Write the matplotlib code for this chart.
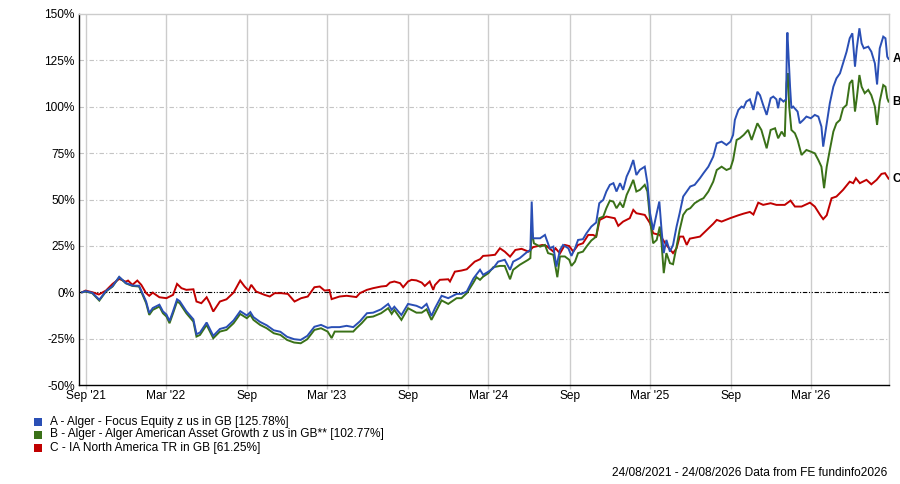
import matplotlib
matplotlib.use('Agg')
import matplotlib.pyplot as plt
from matplotlib.patches import Rectangle
import pandas as pd

plt.rcParams['font.family'] = ['Liberation Sans', 'DejaVu Sans']

start_date = '2021-08-24'
end_date = '2026-08-24'

# A - Alger - Focus Equity (days since start, cumulative % change)
days_a = [0, 8, 23, 39, 54, 69, 84, 99, 114, 129, 145, 152, 160, 175, 183, 191, 198, 206, 215, 221,
          236, 252, 259, 267, 282, 297, 312, 327, 343, 358, 373, 381, 388, 403, 418, 434, 449, 464, 480, 495,
          510, 526, 541, 556,
          565, 583, 599, 614, 629, 645, 659, 677, 693, 701, 707, 723, 738, 757, 769, 780, 791, 799, 814, 829,
          848, 859, 871, 886, 901, 908, 920, 931, 942, 957, 969, 976, 991, 1006, 1015, 1018, 1021, 1037, 1048, 1052,
          1059, 1067, 1074, 1082, 1089, 1101,
          1108, 1116, 1123, 1134, 1142, 1153, 1164, 1171, 1180, 1187, 1195, 1203, 1210, 1218, 1225, 1233, 1240, 1248, 1255, 1263,
          1274, 1280, 1286, 1293, 1301, 1307, 1312, 1317, 1323, 1331, 1338, 1346, 1353, 1361, 1369, 1377, 1387, 1399, 1407, 1418,
          1429, 1437, 1448, 1459,
          1468, 1474, 1478, 1486, 1493, 1498, 1504, 1512, 1520, 1529, 1535, 1542, 1550, 1559, 1565, 1572, 1576, 1580, 1588, 1594,
          1596, 1597, 1600, 1603, 1606, 1610, 1620, 1625, 1633, 1640, 1650, 1659, 1667, 1674, 1678, 1686, 1693, 1701, 1708, 1716,
          1723, 1731, 1738, 1744, 1750, 1754, 1760, 1765, 1770, 1780, 1787, 1795, 1800, 1806, 1814, 1819, 1823, 1826]
pct_a = [0, 0.6, -0.3, -4.0, 0.6, 3.3, 8.3, 5.0, 3.6, 3.5, -5.0, -11.2, -8.5, -6.7, -10.3, -12.0, -15.5, -10.2, -3.8, -4.8,
         -10.2, -14.6, -22.6, -21.7, -16.3, -23.5, -19.8, -18.8, -15.2, -10.2, -12.5, -10.7, -13.4, -16.0, -17.8, -20.5, -21.3, -24.0, -25.3, -25.7,
         -23.5, -18.6, -17.6, -19.2,
         -18.8, -18.8, -18.1, -18.8, -15.7, -11.3, -11.0, -9.2, -6.3, -9.5, -7.8, -12.3, -6.3, -7.3, -8.6, -6.3, -12.8, -8.6, -1.9, -3.2,
         -0.9, -0.9, 0.4, 7.4, 12.1, 9.4, 11.1, 13.0, 16.5, 17.5, 12.1, 16.5, 18.4, 21.4, 22.8, 48.9, 29.1, 29.1, 30.9, 28.2,
         23.7, 24.6, 13.8, 22.8, 25.5, 23.7,
         19.6, 23.7, 28.2, 28.6, 31.8, 35.4, 37.6, 48.0, 49.8, 54.3, 57.9, 58.8, 54.3, 58.8, 55.2, 62.4, 66.0, 71.3, 63.2, 66.0,
         67.7, 58.8, 42.6, 33.6, 42.6, 48.9, 33.6, 21.1, 28.2, 21.9, 25.5, 35.4, 42.6, 51.6, 54.3, 57.0, 57.9, 61.5, 64.2, 67.7,
         73.1, 80.3, 81.2, 79.4,
         81.2, 84.8, 92.9, 98.3, 100.1, 99.5, 102.8, 104.0, 98.3, 108.1, 106.2, 101.0, 95.6, 104.6, 105.5, 104.0, 99.2, 104.6, 102.8, 104.0,
         136.0, 140.0, 125.0, 110.8, 99.2, 100.1, 97.4, 91.1, 92.9, 94.7, 93.8, 95.6, 94.7, 89.3, 78.5, 91.1, 101.9, 110.8, 115.3, 118.0,
         123.4, 129.7, 136.9, 139.6, 121.6, 131.5, 142.3, 134.2, 131.5, 132.4, 129.7, 123.4, 112.0, 131.5, 137.8, 136.9, 127.0, 125.78]

# B - Alger - Alger American Asset Growth
days_b = [0, 8, 23, 39, 54, 69, 84, 99, 114, 129, 145, 152, 160, 175, 183, 191, 198, 206, 215, 221,
          236, 252, 259, 267, 282, 297, 312, 327, 343, 358, 373, 381, 388, 403, 418, 434, 449, 464, 480, 495,
          510, 526, 541, 556,
          565, 572, 583, 599, 614, 621, 633, 645, 659, 677, 693, 701, 707, 723, 738, 757, 769, 780, 791, 799,
          814, 829, 848, 859, 871, 886, 893, 901, 908, 920, 931, 946, 957, 969, 976, 991, 1010, 1015, 1018, 1023,
          1037, 1048, 1055, 1067, 1076, 1082, 1093,
          1103, 1108, 1116, 1123, 1134, 1142, 1153, 1164, 1171, 1180, 1187, 1195, 1203, 1210, 1218, 1225, 1233, 1240, 1248, 1255,
          1263, 1274, 1280, 1286, 1293, 1301, 1308, 1312, 1317, 1323, 1331, 1338, 1346, 1353, 1361, 1369, 1377, 1387, 1399, 1407,
          1418, 1429, 1437, 1448, 1459,
          1468, 1474, 1482, 1489, 1498, 1508, 1516, 1529, 1538, 1550, 1559, 1569, 1576, 1584, 1591, 1595, 1598, 1601, 1606, 1614,
          1620, 1629, 1640, 1650, 1659, 1667, 1674, 1680, 1686, 1693, 1701, 1708, 1716, 1723, 1731, 1738, 1744, 1750, 1754, 1760,
          1765, 1772, 1780, 1787, 1795, 1800, 1806, 1814, 1819, 1823, 1826]
pct_b = [0, 0.4, -0.5, -4.5, 0.4, 3.1, 8.1, 4.8, 3.4, 3.1, -5.9, -12.2, -9.5, -7.7, -11.3, -13.1, -16.7, -11.3, -5.0, -5.9,
         -11.3, -15.8, -23.9, -23.0, -17.6, -24.8, -21.2, -20.3, -16.7, -11.7, -14.0, -12.2, -14.9, -17.6, -19.4, -22.1, -23.0, -25.7, -27.1, -27.5,
         -25.3, -20.3, -19.4, -21.2,
         -24.7, -21.2, -21.2, -21.2, -21.2, -19.4, -16.7, -13.5, -13.1, -11.3, -8.6, -11.7, -9.5, -14.9, -8.6, -11.0, -11.0, -9.2, -14.9, -11.3,
         -4.4, -6.3, -3.2, -3.2, -0.5, 5.2, 8.1, 6.7, 8.4, 10.3, 13.5, 14.2, 14.2, 7.0, 12.1, 14.8, 17.5, 18.4, 33.6, 26.4,
         24.6, 25.5, 21.1, 20.2, 8.1, 19.3, 19.3,
         17.5, 14.2, 16.5, 21.1, 21.9, 24.6, 27.9, 30.0, 39.9, 40.8, 45.3, 49.4, 48.8, 45.3, 48.3, 45.7, 52.5, 56.1, 60.6, 54.3,
         55.2, 57.9, 54.3, 39.0, 26.4, 28.2, 35.4, 26.4, 10.3, 21.1, 15.7, 15.1, 24.6, 33.6, 41.7, 44.4, 45.3, 48.0, 49.8, 50.7,
         54.3, 59.6, 65.9, 67.7, 65.9,
         66.8, 71.3, 82.1, 83.0, 84.8, 87.5, 82.1, 91.1, 87.5, 77.6, 87.5, 88.4, 83.0, 86.6, 83.9, 112.6, 118.0, 100.1, 87.5, 85.7,
         82.1, 74.0, 76.7, 75.8, 74.9, 71.3, 67.7, 56.1, 67.7, 76.7, 86.6, 91.1, 92.9, 99.2, 101.0, 112.6, 114.4, 97.4, 104.6, 117.1,
         110.8, 107.3, 109.1, 106.2, 100.1, 90.2, 102.9, 111.7, 110.8, 104.6, 102.77]

# C - IA North America TR
days_c = [0, 8, 23, 38, 54, 69, 84, 99, 104, 114, 125, 134, 145, 152, 160, 175, 191, 206, 215, 225,
          236, 252, 259, 270, 282, 289, 297, 312, 327, 343, 358, 368, 377, 383, 394, 413, 425, 436, 451, 466,
          481, 496, 511, 526, 538, 549, 560,
          565, 583, 599, 621, 629, 645, 659, 677, 689, 697, 707, 720, 727, 738, 746, 757, 769, 776, 787, 795,
          799, 810, 829, 833, 844, 859, 871, 889, 901, 908, 920, 935, 946, 957, 969, 981, 995, 1011, 1021, 1042,
          1052, 1067, 1072, 1082, 1093, 1103,
          1112, 1123, 1134, 1146, 1157, 1164, 1172, 1187, 1206, 1214, 1225, 1240, 1248, 1255, 1274, 1286, 1293, 1308, 1323, 1338,
          1346, 1353, 1361, 1369, 1376, 1399, 1418, 1429, 1437, 1448, 1467,
          1486, 1498, 1512, 1520, 1531, 1542, 1559, 1572, 1591, 1604, 1614, 1629, 1648, 1659, 1671, 1678, 1686, 1697, 1708, 1723,
          1738, 1746, 1752, 1761, 1776, 1787, 1799, 1810, 1818, 1826]
pct_c = [0, 0.9, 0, -1.2, 0.9, 4.5, 7.2, 5.7, 6.3, 4.0, 6.3, 4.0, -0.5, -1.9, -0.2, -2.7, -3.2, -1.4, 4.5, 2.2,
         1.3, 1.6, -5.0, -5.9, -2.7, -5.9, -10.4, -5.0, -3.8, -0.2, 6.3, 3.1, 0.9, 4.0, 0.4, -1.4, -2.3, -0.5, -0.5, -0.9,
         -5.0, -3.2, -2.3, 2.7, 3.1, 0.9, 1.2,
         -3.7, -2.3, -1.9, -2.6, -0.5, 1.3, 2.2, 3.1, 3.4, 5.2, 5.8, 4.9, 2.7, 5.8, 6.7, 6.4, 5.2, 3.4, 5.8, 1.3,
         3.9, 6.7, 7.0, 5.8, 11.1, 11.7, 12.4, 16.5, 17.8, 19.6, 19.8, 20.2, 23.7, 21.9, 19.2, 22.8, 23.4, 21.9, 24.3, 25.5,
         24.9, 21.9, 23.7, 20.9, 25.5, 24.9,
         21.9, 25.5, 26.4, 30.9, 30.9, 30.0, 39.0, 40.8, 39.9, 35.8, 38.1, 39.9, 44.4, 42.6, 41.7, 37.2, 31.8, 30.9, 25.5, 21.1,
         23.7, 30.0, 30.0, 25.5, 28.9, 30.0, 34.4, 36.9, 39.0, 38.1, 39.9,
         41.5, 42.4, 43.3, 41.9, 48.3, 47.1, 48.0, 47.1, 47.1, 49.4, 46.2, 46.2, 48.3, 46.2, 41.7, 39.4, 41.5, 50.7, 51.6, 55.2,
         59.6, 58.8, 61.5, 58.8, 60.6, 58.2, 60.6, 63.8, 64.2, 61.25]

series_letters = ['A', 'B', 'C']
legend_labels = ['A - Alger - Focus Equity z us in GB [125.78%]',
                 'B - Alger - Alger American Asset Growth z us in GB** [102.77%]',
                 'C - IA North America TR in GB [61.25%]']
colors = ['#2a4fb5', '#3a7118', '#c00000']

xtick_dates = ['2021-09-01', '2022-03-01', '2022-09-01', '2023-03-01', '2023-09-01',
               '2024-03-01', '2024-09-01', '2025-03-01', '2025-09-01', '2026-03-01']
xtick_labels = ["Sep '21", "Mar '22", "Sep", "Mar '23", "Sep",
                "Mar '24", "Sep", "Mar '25", "Sep", "Mar '26"]
ytick_values = [-50, -25, 0, 25, 50, 75, 100, 125, 150]
footer = '24/08/2021 - 24/08/2026 Data from FE fundinfo2026'

W, H = 900, 484
FS = 8.6
fig = plt.figure(figsize=(W / 100, H / 100), dpi=100)
ax = fig.add_axes([79 / W, 1 - 385 / H, 810 / W, 371 / H])

start = pd.Timestamp(start_date)
end = pd.Timestamp(end_date)
all_series = [(days_a, pct_a), (days_b, pct_b), (days_c, pct_c)]
# draw C first so A/B sit on top like the reference
for idx in [2, 1, 0]:
    days, pct = all_series[idx]
    dates = start + pd.to_timedelta(days, unit='D')
    ax.plot(dates, pct, color=colors[idx], lw=1.4, zorder=3 + (2 - idx) * 0.1,
            solid_joinstyle='miter')

for idx, (days, pct) in enumerate(all_series):
    d_end = start + pd.Timedelta(days=days[-1])
    ax.annotate(series_letters[idx], xy=(d_end, pct[-1]), xytext=(3, 0),
                textcoords='offset points', ha='left', va='center',
                fontsize=FS, fontweight='bold', color='black', annotation_clip=False)

ax.set_xlim(start - pd.Timedelta(days=7), end + pd.Timedelta(days=1))
ax.set_ylim(-50, 150)

ax.set_yticks(ytick_values)
ax.set_yticklabels([f'{v}%' for v in ytick_values])
xt = pd.to_datetime(xtick_dates)
ax.set_xticks(xt)
ax.set_xticklabels(xtick_labels)

for v in ytick_values:
    if v == 0:
        ax.axhline(v, color='black', lw=0.8, ls=(0, (4, 1.5, 1, 1.5, 1, 1.5)), zorder=2.5)
    elif v not in (-50, 150):
        ax.axhline(v, color='#c4c4c4', lw=0.8, ls=(0, (4, 2, 1, 2)), zorder=1)
for d in xt:
    ax.axvline(d, color='#cccccc', lw=1.0, zorder=1)

for s in ['top', 'right']:
    ax.spines[s].set_color('#cccccc')
    ax.spines[s].set_linewidth(1.0)
for s in ['left', 'bottom']:
    ax.spines[s].set_color('black')
    ax.spines[s].set_linewidth(1.0)

ax.tick_params(axis='y', length=0, pad=3, labelsize=FS)
ax.tick_params(axis='x', length=3, color='#cccccc', width=1.0, pad=0.3, labelsize=FS)

# manual legend
for i, (lab, col) in enumerate(zip(legend_labels, colors)):
    yc = 421.5 + i * 13
    fig.patches.append(Rectangle((34 / W, 1 - (yc + 4) / H), 8 / W, 8 / H,
                                 transform=fig.transFigure, facecolor=col, edgecolor='none'))
    fig.text(50 / W, 1 - yc / H, lab, ha='left', va='center', fontsize=FS)

fig.text(887 / W, 1 - 473 / H, footer, ha='right', va='center', fontsize=FS)

fig.savefig('out.png', dpi=100)
